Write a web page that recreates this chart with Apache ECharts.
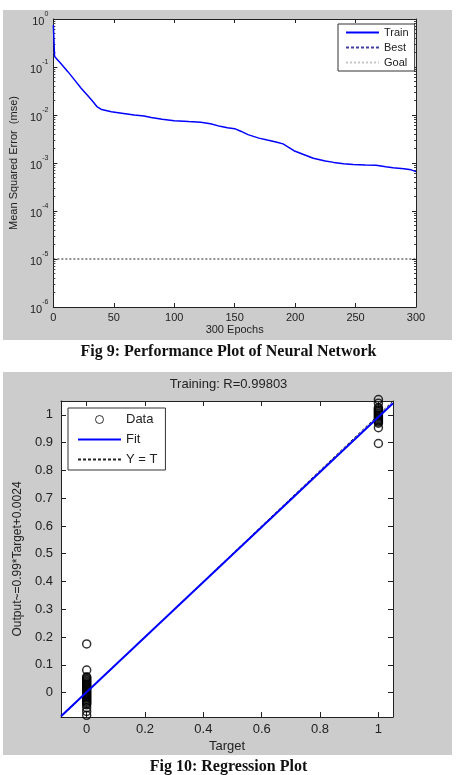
<!DOCTYPE html>
<html lang="en">
<head>
<meta charset="UTF-8">
<title>Performance and Regression Plot</title>
<style>
    html, body { margin: 0; padding: 0; background: #fff; }
    #main { width: 457px; height: 775px; }
</style>
<script src="https://cdn.jsdelivr.net/npm/echarts@6/dist/echarts.min.js"></script>
</head>
<body>
<div id="main"></div>
<script type="text/javascript">
    // ---- Fig 9: performance (mse per epoch, log scale) ----
    var epochs = [0, 1, 6, 12, 18, 23, 28, 32, 36, 40, 48, 58, 67, 75, 81, 90, 100, 112, 122, 130,
        138, 144, 150, 155, 161, 170, 177, 185, 190, 195, 199, 207, 215, 225, 232, 240, 248, 258,
        267, 275, 281, 290, 296, 300];
    var mseTrain = [0.75, 0.165, 0.12, 0.080, 0.052, 0.036, 0.026, 0.020, 0.0150, 0.0130, 0.0117,
        0.0108, 0.0100, 0.0095, 0.0089, 0.0082, 0.0076, 0.0073, 0.0071, 0.0066, 0.0058, 0.0054,
        0.0052, 0.0046, 0.0039, 0.0033, 0.0030, 0.0027, 0.0025, 0.0021, 0.0018, 0.0015, 0.00126,
        0.00110, 0.00103, 0.00097, 0.00093, 0.00091, 0.00090, 0.00084, 0.00080, 0.00076, 0.00072,
        0.00066];
    var goalEpochs = [0, 300];
    var goalMse = [1e-5, 1e-5];
    var epochTicks = [0, 50, 100, 150, 200, 250, 300];

    // ---- Fig 10: regression (outputs for target 0 and target 1) ----
    var outputsAtZero = [0.175, 0.081, 0.057, 0.053, 0.049, 0.045, 0.041, 0.037, 0.033, 0.029,
        0.025, 0.021, 0.017, 0.013, 0.009, 0.005, 0.001, -0.003, -0.007, -0.011, -0.015, -0.019,
        -0.023, -0.027, -0.031, -0.035, -0.039, -0.044, -0.055, -0.068, -0.082];
    var outputsAtOne = [1.055, 1.042, 1.026, 1.022, 1.018, 1.014, 1.010, 1.006, 1.002, 0.998,
        0.994, 0.990, 0.986, 0.982, 0.978, 0.974, 0.970, 0.954, 0.897];
    var fitLine = [[-0.088, -0.085], [1.05, 1.042]];
    var identityLine = [[-0.088, -0.088], [1.05, 1.05]];
    var regLimits = [-0.088, 1.05];
    var targetTicks = [0, 0.2, 0.4, 0.6, 0.8, 1];
    var outputTicks = [0, 0.1, 0.2, 0.3, 0.4, 0.5, 0.6, 0.7, 0.8, 0.9, 1];

    // minor ticks of the log axis (as exponents)
    var minorExp = [];
    for (var d = -6; d < 0; d++) {
        for (var k = 2; k <= 9; k++) minorExp.push(d + Math.log10(k));
    }

    function pairs(xs, ys) {
        return xs.map(function (x, i) { return [x, ys[i]]; });
    }

    var myChart = echarts.init(document.getElementById('main'));
    var txt = '#222';
    var axLine = { show: true, onZero: false, lineStyle: { color: '#222', width: 1 } };
    var noSymbol = { opacity: 0 };

    var option = {
        animation: false,
        textStyle: { fontFamily: 'Liberation Sans' },
        graphic: [
            { type: 'rect', z: -10, shape: { x: 3, y: 10, width: 449, height: 330 }, style: { fill: '#cccccc' } },
            { type: 'rect', z: -10, shape: { x: 3, y: 372, width: 449, height: 383 }, style: { fill: '#cccccc' } }
        ],
        title: [
            { text: 'Fig 9: Performance Plot of Neural Network', left: 'center', top: 344, padding: 0,
              textStyle: { fontFamily: 'Liberation Serif', fontWeight: 'bold', fontSize: 16, color: '#111' } },
            { text: 'Training: R=0.99803', left: 'center', top: 378, padding: 0,
              textStyle: { fontFamily: 'Liberation Sans', fontWeight: 'normal', fontSize: 13, color: txt } },
            { text: 'Fig 10: Regression Plot', left: 'center', top: 759, padding: 0,
              textStyle: { fontFamily: 'Liberation Serif', fontWeight: 'bold', fontSize: 16, color: '#111' } }
        ],
        legend: [
            {
                left: 338, top: 24, orient: 'vertical',
                padding: [3, 6, 3, 7], itemGap: 4, itemWidth: 33, itemHeight: 12,
                backgroundColor: '#fff', borderColor: '#333', borderWidth: 1, borderRadius: 0,
                textStyle: { fontSize: 11, color: txt },
                data: [
                    { name: 'Train', itemStyle: noSymbol },
                    { name: 'Best', itemStyle: noSymbol },
                    { name: 'Goal', itemStyle: noSymbol, lineStyle: { color: '#c8c8c8' } }
                ]
            },
            {
                left: 68, top: 408, orient: 'vertical',
                padding: [4, 8, 3, 9], itemGap: 5, itemWidth: 43, itemHeight: 8,
                backgroundColor: '#fff', borderColor: '#333', borderWidth: 1, borderRadius: 0,
                textStyle: { fontSize: 13, color: txt, lineHeight: 15 },
                data: [
                    { name: 'Data', itemStyle: { borderWidth: 1 } },
                    { name: 'Fit', itemStyle: noSymbol },
                    { name: 'Y = T', itemStyle: noSymbol }
                ]
            }
        ],
        grid: [
            { left: 52, top: 19, width: 364, height: 288, show: true, backgroundColor: '#fff', borderWidth: 0 },
            { left: 61, top: 401, width: 332, height: 316, show: true, backgroundColor: '#fff', borderWidth: 0 }
        ],
        xAxis: [
            {
                gridIndex: 0, type: 'value', min: 0, max: 300, interval: 50, position: 'bottom',
                name: '300 Epochs', nameLocation: 'middle', nameGap: 17,
                nameTextStyle: { fontSize: 11, color: txt },
                axisLine: axLine, splitLine: { show: false },
                axisTick: { inside: true, length: 4, lineStyle: { color: '#222' } },
                axisLabel: { fontSize: 11, color: txt, margin: 5 }
            },
            {
                gridIndex: 0, type: 'value', min: 0, max: 300, interval: 50, position: 'top',
                axisLine: axLine, splitLine: { show: false },
                axisTick: { inside: true, length: 4, lineStyle: { color: '#222' } },
                axisLabel: { show: false }
            },
            {
                gridIndex: 1, type: 'value', min: regLimits[0], max: regLimits[1], position: 'bottom',
                name: 'Target', nameLocation: 'middle', nameGap: 23,
                nameTextStyle: { fontSize: 13, color: txt },
                axisLine: axLine, splitLine: { show: false },
                axisTick: { inside: true, length: 5, customValues: targetTicks, lineStyle: { color: '#222' } },
                axisLabel: { fontSize: 13, color: txt, margin: 6, customValues: targetTicks }
            },
            {
                gridIndex: 1, type: 'value', min: regLimits[0], max: regLimits[1], position: 'top',
                axisLine: axLine, splitLine: { show: false },
                axisTick: { inside: true, length: 5, customValues: targetTicks, lineStyle: { color: '#222' } },
                axisLabel: { show: false }
            }
        ],
        yAxis: [
            {
                gridIndex: 0, type: 'log', logBase: 10, min: 1e-6, max: 1, position: 'left',
                name: 'Mean Squared Error  (mse)', nameLocation: 'middle', nameGap: 34,
                nameTextStyle: { fontSize: 11, color: txt },
                axisLine: axLine, splitLine: { show: false },
                axisTick: { inside: true, length: 4, lineStyle: { color: '#222' } },
                axisLabel: {
                    margin: 5, color: txt,
                    formatter: function (v) {
                        return '{b|10}{s|' + Math.round(Math.log10(v)) + '}';
                    },
                    rich: {
                        b: { fontSize: 11, color: txt, verticalAlign: 'bottom', lineHeight: 16 },
                        s: { fontSize: 7, color: txt, verticalAlign: 'top', lineHeight: 16 }
                    }
                }
            },
            {
                gridIndex: 0, type: 'log', logBase: 10, min: 1e-6, max: 1, position: 'right',
                axisLine: axLine, splitLine: { show: false },
                axisTick: { inside: true, length: 4, lineStyle: { color: '#222' } },
                axisLabel: { show: false }
            },
            {
                gridIndex: 0, type: 'value', min: -6, max: 0, position: 'left',
                axisLine: { show: false, onZero: false }, splitLine: { show: false }, axisLabel: { show: false },
                axisTick: { inside: true, length: 2, customValues: minorExp, lineStyle: { color: '#444' } }
            },
            {
                gridIndex: 0, type: 'value', min: -6, max: 0, position: 'right',
                axisLine: { show: false, onZero: false }, splitLine: { show: false }, axisLabel: { show: false },
                axisTick: { inside: true, length: 2, customValues: minorExp, lineStyle: { color: '#444' } }
            },
            {
                gridIndex: 1, type: 'value', min: regLimits[0], max: regLimits[1], position: 'left',
                name: 'Output~=0.99*Target+0.0024', nameLocation: 'middle', nameGap: 36,
                nameTextStyle: { fontSize: 12, color: txt },
                axisLine: axLine, splitLine: { show: false },
                axisTick: { inside: true, length: 5, customValues: outputTicks, lineStyle: { color: '#222' } },
                axisLabel: { fontSize: 13, color: txt, margin: 8, customValues: outputTicks }
            },
            {
                gridIndex: 1, type: 'value', min: regLimits[0], max: regLimits[1], position: 'right',
                axisLine: axLine, splitLine: { show: false },
                axisTick: { inside: true, length: 5, customValues: outputTicks, lineStyle: { color: '#222' } },
                axisLabel: { show: false }
            }
        ],
        series: [
            {
                name: 'Train', type: 'line', xAxisIndex: 0, yAxisIndex: 0,
                data: pairs(epochs, mseTrain), symbol: 'none',
                lineStyle: { color: '#0000ff', width: 1.5 }, itemStyle: { color: '#0000ff' }
            },
            {
                name: 'Best', type: 'line', xAxisIndex: 0, yAxisIndex: 0,
                data: [], symbol: 'none',
                lineStyle: { color: '#4040a0', width: 1.2, type: [3, 2] }, itemStyle: { color: '#4040a0' }
            },
            {
                name: 'Goal', type: 'line', xAxisIndex: 0, yAxisIndex: 0,
                data: pairs(goalEpochs, goalMse), symbol: 'none',
                lineStyle: { color: '#222', width: 1.2, type: [2, 2] }, itemStyle: { color: '#222' }
            },
            {
                name: 'Y = T', type: 'line', xAxisIndex: 2, yAxisIndex: 4,
                data: identityLine, symbol: 'none',
                lineStyle: { color: '#222', width: 1, type: [3, 2] }, itemStyle: { color: '#222' }
            },
            {
                name: 'Fit', type: 'line', xAxisIndex: 2, yAxisIndex: 4,
                data: fitLine, symbol: 'none',
                lineStyle: { color: '#0000ff', width: 2 }, itemStyle: { color: '#0000ff' }
            },
            {
                name: 'Data', type: 'scatter', xAxisIndex: 2, yAxisIndex: 4, clip: false,
                data: outputsAtZero.map(function (v) { return [0, v]; })
                    .concat(outputsAtOne.map(function (v) { return [1, v]; })),
                symbol: 'circle', symbolSize: 8,
                itemStyle: { color: 'rgba(255,255,255,0)', borderColor: '#000', borderWidth: 1.5 }
            }
        ]
    };
    myChart.setOption(option);
</script>
</body>
</html>
